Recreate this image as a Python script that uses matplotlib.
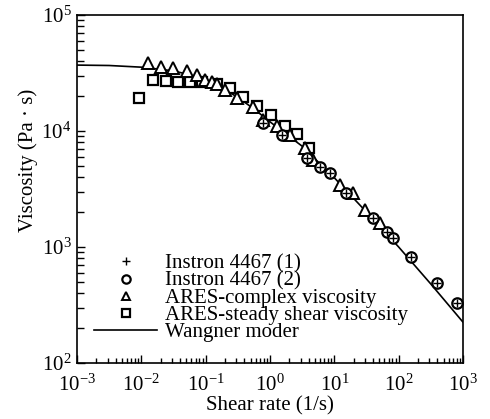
import matplotlib
matplotlib.use("Agg")
import matplotlib.pyplot as plt
from matplotlib.lines import Line2D
from matplotlib.ticker import LogLocator, NullFormatter

plt.rcParams['font.family'] = ['Liberation Serif', 'DejaVu Serif']
plt.rcParams['mathtext.fontset'] = 'custom'
plt.rcParams['mathtext.rm'] = 'Liberation Serif'

# Instron 4467 (1) -- plus markers
inst1_rate = [0.778, 1.54, 3.76, 5.98, 8.57, 15.2, 39.9, 65.9, 81.7, 155, 395, 807]
inst1_visc = [1.17e4, 9.2e3, 5.85e3, 4.9e3, 4.35e3, 2.92e3, 1.78e3, 1.35e3, 1.2e3, 820, 490, 329]
# Instron 4467 (2) -- open circles
inst2_rate = [0.778, 1.54, 3.76, 5.98, 8.57, 15.2, 39.9, 65.9, 81.7, 155, 395, 807]
inst2_visc = [1.17e4, 9.2e3, 5.85e3, 4.9e3, 4.35e3, 2.92e3, 1.78e3, 1.35e3, 1.2e3, 820, 490, 329]
# ARES complex viscosity -- open triangles
ares_c_rate = [0.0127, 0.0202, 0.031, 0.051, 0.073, 0.098, 0.125, 0.150, 0.20, 0.307,
               0.544, 0.778, 1.29, 2.05, 3.50, 4.66, 12.2, 19.5, 30, 51]
ares_c_visc = [3.86e4, 3.56e4, 3.49e4, 3.29e4, 3.04e4, 2.75e4, 2.64e4, 2.54e4, 2.26e4, 1.92e4,
               1.61e4, 1.24e4, 1.10e4, 9.2e3, 7.1e3, 5.6e3, 3.42e3, 2.92e3, 2.08e3, 1.61e3]
# ARES steady shear viscosity -- open squares
ares_s_rate = [0.0092, 0.0152, 0.0242, 0.0372, 0.057, 0.088, 0.150, 0.239, 0.38, 0.628,
               1.04, 1.71, 2.63, 4.04]
ares_s_visc = [1.92e4, 2.75e4, 2.70e4, 2.64e4, 2.64e4, 2.64e4, 2.54e4, 2.35e4, 1.96e4, 1.64e4,
               1.37e4, 1.10e4, 9.4e3, 7.1e3]
# Wagner model curve
model_rate = [0.001, 0.00316, 0.01, 0.0316, 0.0562, 0.1, 0.178, 0.316, 0.562, 1.0,
              1.78, 3.16, 5.62, 10, 31.6, 100, 316, 1000]
model_visc = [3.7e4, 3.67e4, 3.55e4, 3.3e4, 3.05e4, 2.75e4, 2.35e4, 1.95e4, 1.55e4, 1.2e4,
              9.4e3, 7.4e3, 5.4e3, 3.95e3, 2.0e3, 1.0e3, 4.8e2, 2.25e2]

labels = ['Instron 4467 (1)', 'Instron 4467 (2)', 'ARES-complex viscosity',
          'ARES-steady shear viscosity', 'Wangner moder']

fig = plt.figure(figsize=(4.9, 4.19), dpi=100)
ax = fig.add_axes([77/490, 56/419, 386/490, 348/419])

ax.plot(model_rate, model_visc, color='black', lw=1.2, zorder=2)
ax.plot(ares_s_rate, ares_s_visc, ls='none', marker='s', ms=7.5, mfc='white', mec='black', mew=1.6, zorder=3)
ax.plot(ares_c_rate, ares_c_visc, ls='none', marker='^', ms=8, mfc='white', mec='black', mew=1.4, zorder=4)
ax.plot(inst2_rate, inst2_visc, ls='none', marker='o', ms=7.5, mfc='white', mec='black', mew=1.6, zorder=5)
ax.plot(inst1_rate, inst1_visc, ls='none', marker='+', ms=6, mec='black', mew=1.0, zorder=6)

ax.set_xscale('log')
ax.set_yscale('log')
ax.set_xlim(1e-3, 1e3)
ax.set_ylim(1e2, 1e5)

ax.xaxis.set_major_locator(LogLocator(base=10, numticks=10))
ax.xaxis.set_minor_locator(LogLocator(base=10, subs=range(2, 10), numticks=100))
ax.yaxis.set_major_locator(LogLocator(base=10, numticks=10))
ax.yaxis.set_minor_locator(LogLocator(base=10, subs=range(2, 10), numticks=100))
ax.xaxis.set_minor_formatter(NullFormatter())
ax.yaxis.set_minor_formatter(NullFormatter())

ax.tick_params(which='both', direction='in', top=False, right=False, labelsize=15, width=1.0)
ax.tick_params(which='major', length=6)
ax.tick_params(axis='x', which='major', pad=8)
ax.tick_params(axis='y', which='major', pad=4)
ax.tick_params(axis='x', which='minor', length=3.5)
ax.tick_params(axis='y', which='minor', length=5)
for s in ax.spines.values():
    s.set_linewidth(1.2)

ax.set_xlabel('Shear rate (1/s)', fontsize=15, labelpad=1)
ax.set_ylabel('Viscosity (Pa · s)', fontsize=15)
ax.yaxis.set_label_coords(-0.1, 0.583)

handles = [
    Line2D([], [], ls='none', marker='+', ms=6, mec='black', mew=1.0),
    Line2D([], [], ls='none', marker='o', ms=6, mfc='white', mec='black', mew=1.6),
    Line2D([], [], ls='none', marker='^', ms=6, mfc='white', mec='black', mew=1.4),
    Line2D([], [], ls='none', marker='s', ms=6, mfc='white', mec='black', mew=1.6),
    Line2D([], [], color='black', lw=1.2),
]
ax.legend(handles, labels, loc='lower left', bbox_to_anchor=(0.045, 0.06), frameon=False,
          fontsize=15, labelspacing=-0.12, handlelength=3.0, handletextpad=0.4,
          borderpad=0, borderaxespad=0)

fig.savefig('out.png', dpi=100)
